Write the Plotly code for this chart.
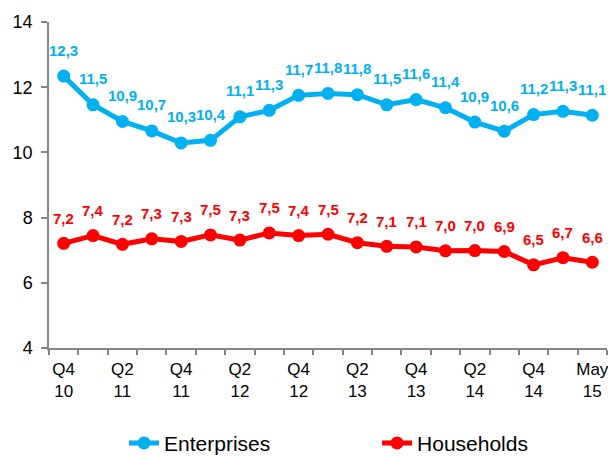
import plotly.graph_objects as go

categories = ["Q4 10", "Q1 11", "Q2 11", "Q3 11", "Q4 11", "Q1 12", "Q2 12", "Q3 12",
              "Q4 12", "Q1 13", "Q2 13", "Q3 13", "Q4 13", "Q1 14", "Q2 14", "Q3 14",
              "Q4 14", "Q1 15", "May 15"]
tick_labels = ["Q4<br>10", "", "Q2<br>11", "", "Q4<br>11", "", "Q2<br>12", "",
               "Q4<br>12", "", "Q2<br>13", "", "Q4<br>13", "", "Q2<br>14", "",
               "Q4<br>14", "", "May<br>15"]

enterprises = [12.34, 11.46, 10.95, 10.66, 10.29, 10.37, 11.09, 11.29, 11.75, 11.81,
               11.77, 11.46, 11.62, 11.37, 10.93, 10.65, 11.16, 11.26, 11.14]
enterprises_labels = ["12,3", "11,5", "10,9", "10,7", "10,3", "10,4", "11,1", "11,3",
                      "11,7", "11,8", "11,8", "11,5", "11,6", "11,4", "10,9", "10,6",
                      "11,2", "11,3", "11,1"]

households = [7.21, 7.45, 7.18, 7.35, 7.27, 7.47, 7.31, 7.53, 7.45, 7.49,
              7.23, 7.12, 7.10, 6.98, 6.99, 6.96, 6.55, 6.77, 6.63]
households_labels = ["7,2", "7,4", "7,2", "7,3", "7,3", "7,5", "7,3", "7,5", "7,4", "7,5",
                     "7,2", "7,1", "7,1", "7,0", "7,0", "6,9", "6,5", "6,7", "6,6"]

BLUE = "#00B0F0"
RED = "#FF0000"
GRAY = "#868686"
FONT = "Liberation Sans, Arial, sans-serif"

fig = go.Figure()
fig.add_trace(go.Scatter(x=categories, y=enterprises, name="Enterprises",
                         mode="lines+markers", line=dict(color=BLUE, width=5),
                         marker=dict(color=BLUE, size=13)))
fig.add_trace(go.Scatter(x=categories, y=households, name="Households",
                         mode="lines+markers", line=dict(color=RED, width=5),
                         marker=dict(color=RED, size=13)))

annotations = []
for c, v, t in zip(categories, enterprises, enterprises_labels):
    annotations.append(dict(x=c, y=v, text=t, showarrow=False, yshift=26,
                            font=dict(family=FONT, size=15, color=BLUE, weight="bold")))
for c, v, t in zip(categories, households, households_labels):
    annotations.append(dict(x=c, y=v, text=t, showarrow=False, yshift=25,
                            font=dict(family=FONT, size=15, color=RED, weight="bold")))

fig.update_layout(
    width=608, height=456,
    margin=dict(l=49, r=1, t=22, b=108, autoexpand=False),
    paper_bgcolor="white", plot_bgcolor="white",
    font=dict(family=FONT, color="black"),
    annotations=annotations,
    showlegend=True,
    legend=dict(orientation="h", xref="container", yref="container",
                x=0.204, y=0.028, xanchor="left", yanchor="middle",
                font=dict(family=FONT, size=21, color="black"), entrywidth=208),
    xaxis=dict(type="category", categoryorder="array", categoryarray=categories,
               range=[-0.5, len(categories) - 0.5],
               tickmode="array", tickvals=categories, ticktext=tick_labels,
               tickson="boundaries", ticks="outside", ticklen=5, tickwidth=1.5,
               tickcolor=GRAY, showline=True, linecolor=GRAY, linewidth=1.5,
               showgrid=False, tickangle=0, ticklabelstandoff=5,
               tickfont=dict(family=FONT, size=17, color="black")),
    yaxis=dict(range=[4, 14], tickmode="array", tickvals=[4, 6, 8, 10, 12, 14],
               ticks="outside", ticklen=6, tickwidth=1.5, tickcolor=GRAY,
               showline=True, linecolor=GRAY, linewidth=1.5, showgrid=False,
               zeroline=False, ticklabelstandoff=5,
               tickfont=dict(family=FONT, size=18, color="black")),
)

# Remove the browser's default 8px body margin so the figure fills the window exactly.
fig.write_html("out.html", config={"displayModeBar": False},
               post_script="document.body.style.margin='0';document.body.style.overflow='hidden';")
